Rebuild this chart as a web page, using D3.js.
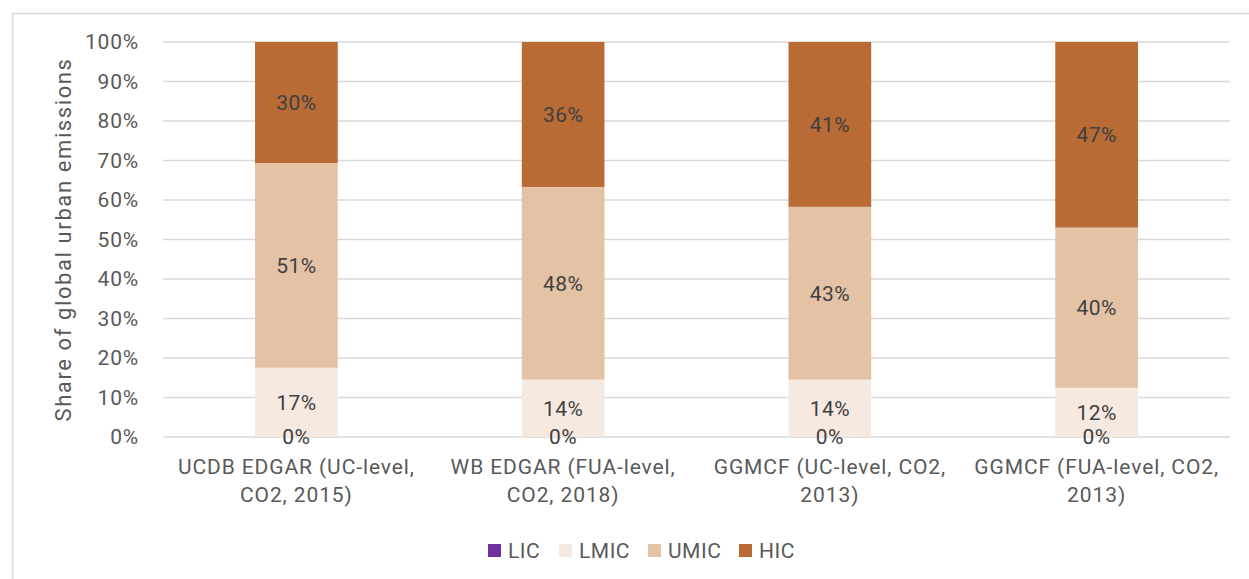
<!DOCTYPE html>
<html>
<head>
<meta charset="utf-8">
<script src="https://cdn.jsdelivr.net/npm/d3@7"></script>
<style>
  body { margin: 0; background: #fff; }
  svg text { font-family: Roboto, "Open Sans", sans-serif; }
</style>
</head>
<body>
<div id="chart"></div>
<script>
// data (share of global urban emissions, %)
const categories = [
  ["UCDB EDGAR (UC-level,", "CO2, 2015)"],
  ["WB EDGAR (FUA-level,", "CO2, 2018)"],
  ["GGMCF (UC-level, CO2,", "2013)"],
  ["GGMCF (FUA-level, CO2,", "2013)"]
];
const seriesNames = ["LIC", "LMIC", "UMIC", "HIC"];
const LIC = [0, 0, 0, 0];
const LMIC = [17.4, 14.4, 14.4, 12.4];
const UMIC = [51.4, 48.4, 43.4, 40.4];
const HIC = [30.4, 36.4, 41.4, 46.8];
const yTicks = [0, 10, 20, 30, 40, 50, 60, 70, 80, 90, 100];

const colours = {LIC: "#7030a0", LMIC: "#f6e9e0", UMIC: "#e4c2a6", HIC: "#b86b35"};

function draw() {
  const width = 1249, height = 579;
  const margin = {top: 42, right: 19, bottom: 142, left: 163};

  const svg = d3.select("#chart").append("svg")
    .attr("width", width)
    .attr("height", height);

  // chart frame
  svg.append("rect")
    .attr("x", 12.5).attr("y", 13.5)
    .attr("width", width + 10).attr("height", height + 10)
    .attr("fill", "none")
    .attr("stroke", "#d9d9d9")
    .attr("stroke-width", 1.5);

  const rows = categories.map((c, i) => ({
    key: i, LIC: LIC[i], LMIC: LMIC[i], UMIC: UMIC[i], HIC: HIC[i]
  }));

  const stacked = d3.stack()
    .keys(seriesNames)
    .offset(d3.stackOffsetExpand)(rows);

  const x = d3.scaleBand()
    .domain(d3.range(categories.length))
    .range([margin.left, width - margin.right])
    .paddingInner(0.69)
    .paddingOuter(0.345);

  const y = d3.scaleLinear()
    .domain([0, 1])
    .range([height - margin.bottom, margin.top]);

  // gridlines
  svg.append("g").selectAll("line")
    .data(yTicks)
    .join("line")
    .attr("x1", margin.left).attr("x2", width - margin.right)
    .attr("y1", d => y(d / 100)).attr("y2", d => y(d / 100))
    .attr("stroke", "#d9d9d9")
    .attr("stroke-width", 1.5);

  // y tick labels
  svg.append("g").selectAll("text")
    .data(yTicks)
    .join("text")
    .attr("x", 139)
    .attr("y", d => y(d / 100))
    .attr("dy", "0.35em")
    .attr("text-anchor", "end")
    .attr("fill", "#595959")
    .style("font-size", "21px")
    .style("letter-spacing", "0.8px")
    .text(d => d + "%");

  // axis title
  svg.append("text")
    .attr("transform", `translate(71,${y(0.5)})rotate(-90)`)
    .attr("text-anchor", "middle")
    .attr("fill", "#595959")
    .style("font-size", "22px")
    .style("letter-spacing", "1.6px")
    .text("Share of global urban emissions");

  // bars
  const layer = svg.append("g").selectAll("g")
    .data(stacked)
    .join("g")
    .attr("fill", d => colours[d.key]);

  layer.selectAll("rect")
    .data(d => d)
    .join("rect")
    .attr("x", d => x(d.data.key))
    .attr("width", x.bandwidth())
    .attr("y", d => y(d[1]))
    .attr("height", d => y(d[0]) - y(d[1]));

  // data labels
  const fmt = v => Math.round(v) + "%";
  stacked.forEach(s => {
    svg.append("g").selectAll("text")
      .data(s)
      .join("text")
      .attr("x", d => x(d.data.key) + x.bandwidth() / 2)
      .attr("y", d => (y(d[0]) + y(d[1])) / 2)
      .attr("dy", "0.35em")
      .attr("text-anchor", "middle")
      .attr("fill", "#404040")
      .style("font-size", "21px")
      .style("letter-spacing", "0.5px")
      .text(d => fmt(d.data[s.key]));
  });

  // category labels
  const cat = svg.append("g").selectAll("text")
    .data(categories)
    .join("text")
    .attr("text-anchor", "middle")
    .attr("fill", "#595959")
    .style("font-size", "21px")
    .style("letter-spacing", "0.9px");
  cat.selectAll("tspan")
    .data((d, i) => d.map(t => ({t, i})))
    .join("tspan")
    .attr("x", d => x(d.i) + x.bandwidth() / 2)
    .attr("y", (d, j) => 474 + j * 28)
    .text(d => d.t);

  // legend
  const legendX = [488, 559, 648, 739];
  const legend = svg.append("g").selectAll("g")
    .data(seriesNames)
    .join("g")
    .attr("transform", (d, i) => `translate(${legendX[i]},544)`);
  legend.append("rect")
    .attr("width", 13).attr("height", 13)
    .attr("fill", d => colours[d]);
  legend.append("text")
    .attr("x", 20).attr("y", 6.5)
    .attr("dy", "0.35em")
    .attr("fill", "#595959")
    .style("font-size", "21px")
    .style("letter-spacing", "0.5px")
    .text(d => d);
}

window.onload = draw;
</script>
</body>
</html>
